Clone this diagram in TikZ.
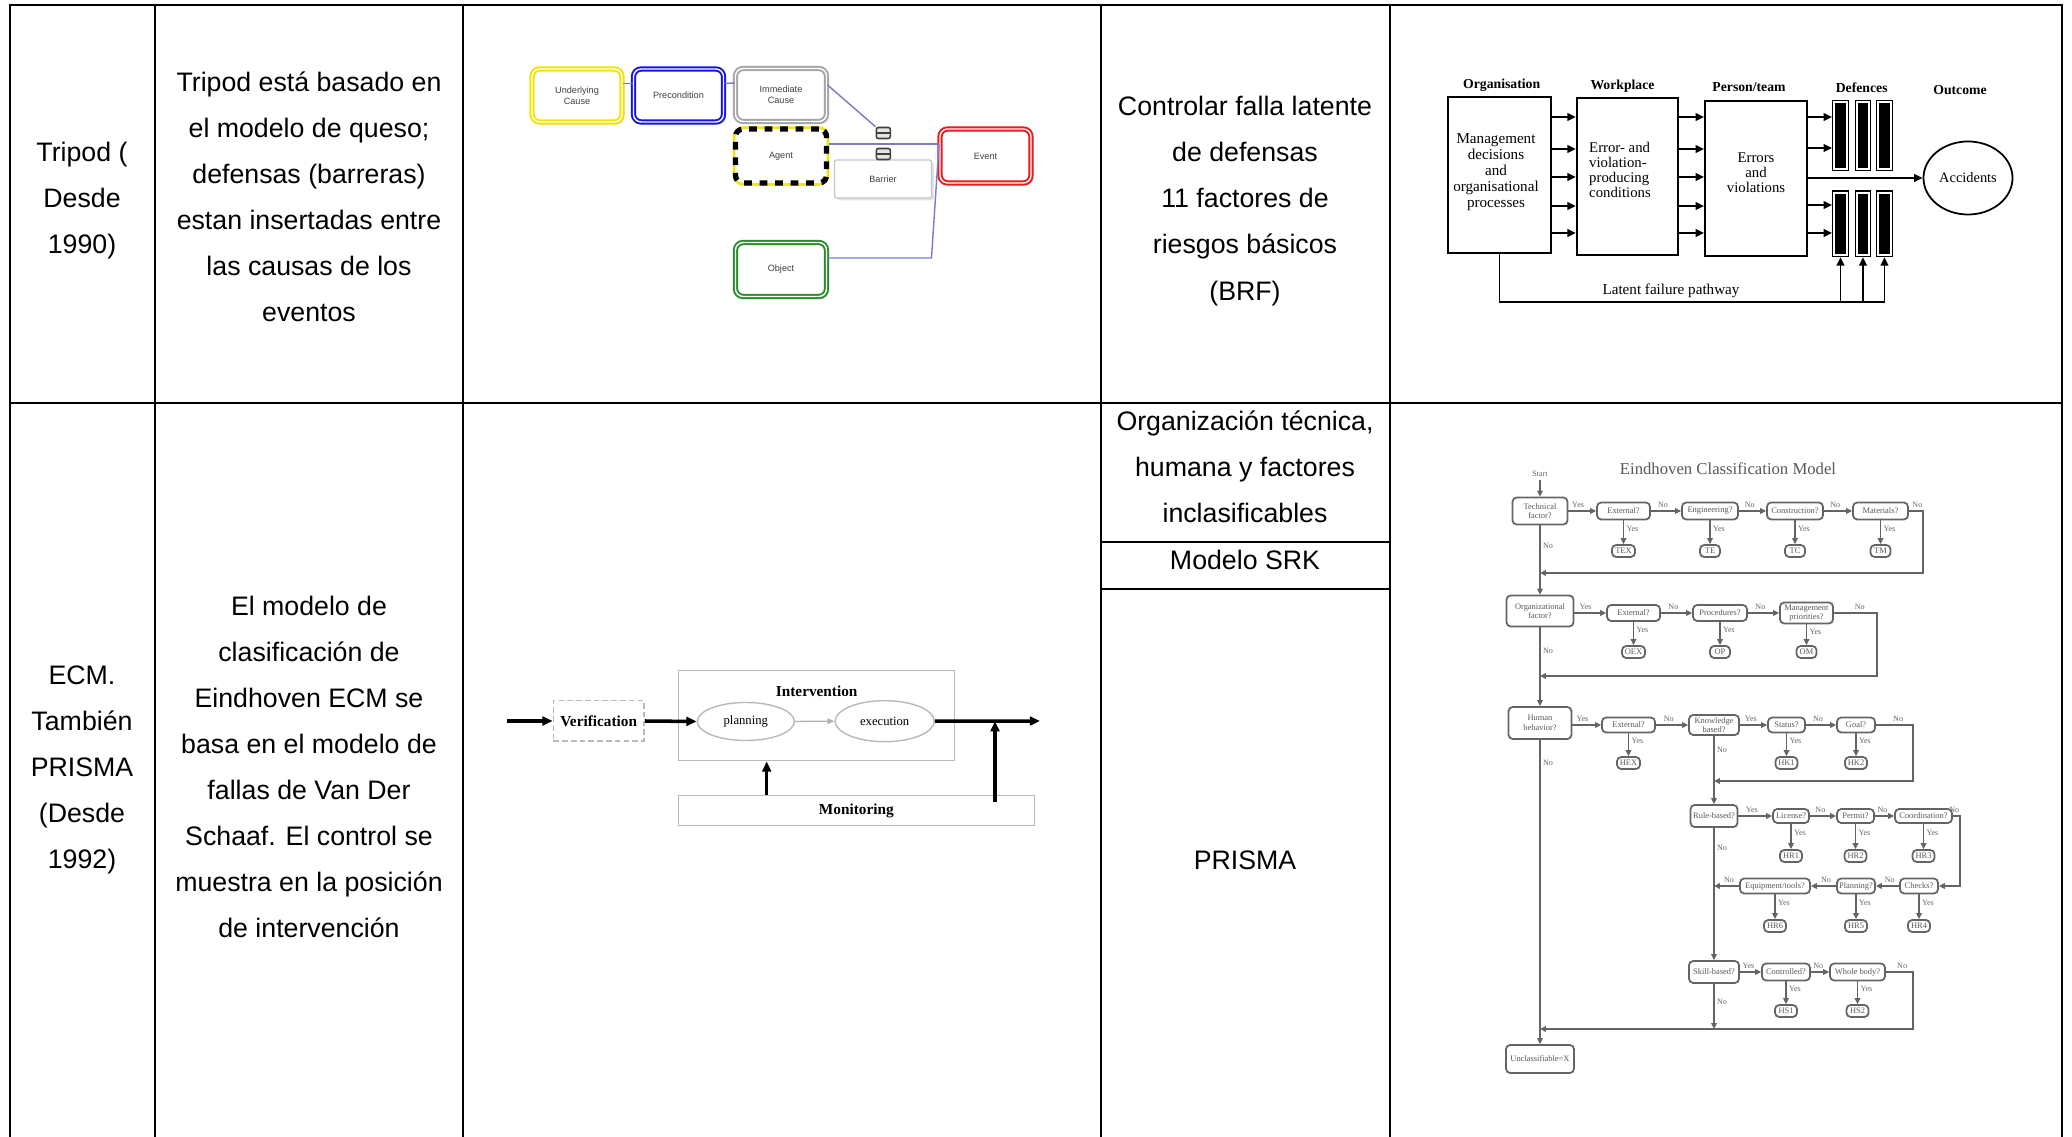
\documentclass[tikz,border=0pt]{standalone}
\usepackage{fontspec}
\setmainfont{Liberation Sans}
\newfontfamily\pserif{Liberation Serif}
\usetikzlibrary{arrows.meta,shapes.geometric,shadows}

\definecolor{linkblue}{RGB}{122,122,200}
\definecolor{ucyellow}{RGB}{240,228,0}
\definecolor{preblue}{RGB}{20,20,230}
\definecolor{icgray}{RGB}{165,165,165}
\definecolor{evred}{RGB}{235,25,25}
\definecolor{objgreen}{RGB}{40,140,40}
\definecolor{flowgray}{RGB}{100,100,100}

\newcommand\celltext{\fontsize{7.6}{13.1}\selectfont}

\tikzset{
  tabrule/.style={line width=0.8pt,black},
  celltxt/.style={align=center,inner sep=0pt,font=\celltext},
  % cause boxes of the Tripod chain
  tp/.style={rounded corners=2.2pt,minimum width=0.90cm,minimum height=0.53cm,inner sep=0pt,
    align=center,font=\fontsize{2.6}{3.1}\selectfont,text=black!75,fill=white,
    drop shadow={opacity=0.22,shadow xshift=0.7pt,shadow yshift=-0.7pt}},
  tpframe/.style={tp,draw=#1,line width=0.55pt,double=white,double distance=0.4pt},
  hazard/.style={draw=black,line width=1.5pt,dash pattern=on 2.2pt off 2.2pt,
    preaction={draw=ucyellow,solid,line width=1.5pt}},
  tlink/.style={draw=linkblue,line width=0.4pt},
  gateicon/.style={draw=black!75,fill=gray!20,line width=0.45pt,rounded corners=0.6pt,
    minimum width=0.14cm,minimum height=0.11cm,inner sep=0pt,
    path picture={\draw[black!75,line width=0.35pt] (path picture bounding box.west) -- (path picture bounding box.east);}},
  % organisational accident model
  rbox/.style={draw=black,line width=0.5pt,inner sep=0pt},
  rtxt/.style={align=center,inner sep=0pt,font=\pserif\fontsize{4.3}{4.55}\selectfont},
  rhead/.style={inner sep=0pt,font=\pserif\bfseries\fontsize{3.9}{4.5}\selectfont},
  rarr/.style={line width=0.5pt,-{Triangle[length=2.4pt,width=2.2pt]}},
  defbar/.style={draw=black,line width=0.35pt,fill=white,minimum width=0.157cm,inner sep=0pt,
    path picture={\fill[black] ([shift={(0.8pt,-0.8pt)}]path picture bounding box.north west)
      rectangle ([shift={(-0.8pt,0.8pt)}]path picture bounding box.south east);}},
  % verification / intervention / monitoring loop
  ebox/.style={draw=gray!55,line width=0.4pt,inner sep=0pt},
  etext/.style={font=\pserif\bfseries\fontsize{4.35}{5}\selectfont},
  eell/.style={ellipse,draw=gray!55,line width=0.4pt,inner sep=0pt,font=\pserif\fontsize{3.6}{4}\selectfont},
  ethick/.style={line width=1pt,-{Triangle[length=2.9pt,width=2.5pt]}},
  % classification flowchart
  dims/.style 2 args={minimum width=#1cm,minimum height=#2cm},
  fq/.style={draw=flowgray,line width=0.5pt,rounded corners=1.2pt,inner sep=0pt,fill=white,
    align=center,text=black!65,font=\pserif\fontsize{2.4}{2.7}\selectfont},
  fl/.style={draw=flowgray,line width=0.55pt},
  fa/.style={fl,-{Triangle[length=1.7pt,width=1.6pt]}},
  fyn/.style={font=\pserif\fontsize{2.3}{2.6}\selectfont,text=black!60,inner sep=0.6pt}
}

\begin{document}
\begin{tikzpicture}[x=0.01cm,y=-0.01cm]
\useasboundingbox (0,0) rectangle (2072,1137);
\fill[white] (0,0) rectangle (2072,1137);

% ---------- table rules ----------
\draw[tabrule,line join=miter] (10,1137) -- (10,5) -- (2062,5) -- (2062,1137);
\foreach \xx in {155,463,1101,1390} \draw[tabrule] (\xx,5) -- (\xx,1137);
\draw[tabrule] (10,403) -- (2062,403);
\draw[tabrule] (1101,542) -- (1390,542);
\draw[tabrule] (1101,589) -- (1390,589);

% ---------- cell texts ----------
\node[celltxt] (r1name) at (82,201) {Tripod (\\Desde\\1990)};
\node[celltxt] (r1desc) at (309,197) {Tripod está basado en\\el modelo de queso;\\defensas (barreras)\\estan insertadas entre\\las causas de los\\eventos};
\node[celltxt] (r1ctrl) at (1245,201) {Controlar falla latente\\de defensas\\11 factores de\\riesgos básicos\\(BRF)};
\node[celltxt] (r2name) at (82,770) {ECM.\\También\\PRISMA\\(Desde\\1992)};
\node[celltxt] (r2desc) at (309,767) {El modelo de\\clasificación de\\Eindhoven ECM se\\basa en el modelo de\\fallas de Van Der\\Schaaf. El control se\\muestra en la posición\\de intervención};
\node[celltxt] (r2fact) at (1245,467) {Organización técnica,\\humana y factores\\inclasificables};
\node[celltxt] (r2srk) at (1245,560) {Modelo SRK};
\node[celltxt] (r2prisma) at (1245,860) {PRISMA};

% ---------- Tripod cause chain ----------
\node[tpframe=ucyellow] (uc) at (577,95.5) {Underlying\\Cause};
\node[tpframe=preblue] (pre) at (678.5,95.5) {Precondition};
\node[tpframe=icgray,minimum width=0.91cm] (ic) at (781,95) {Immediate\\Cause};
\node[tp,hazard,minimum width=0.91cm,minimum height=0.54cm] (ag) at (781,156) {Agent};
\node[tpframe=evred,minimum width=0.91cm,minimum height=0.54cm] (ev) at (985.5,156) {Event};
\node[tpframe=objgreen,minimum width=0.91cm,minimum height=0.54cm] (ob) at (781,269.5) {Object};
\node[tp,draw=gray!45,line width=0.4pt,rounded corners=0.5pt,minimum width=0.97cm,minimum height=0.38cm] (barrier) at (883,179) {Barrier};
\node[gateicon] (g1) at (883.3,133) {};
\node[gateicon] (g2) at (883.3,154) {};
\coordinate (obturn) at (931.5,258);
\draw[tlink] ([yshift=0.12cm]uc.east) -- ([yshift=0.12cm]pre.west);
\draw[tlink] ([yshift=0.12cm]pre.east) -- ([yshift=0.12cm]ic.west);
\draw[tlink] ([yshift=0.10cm]ic.east) -- (g1.north west);
\draw[tlink] ([yshift=0.12cm]ag.east) -- ([yshift=0.12cm]ev.west);
\draw[tlink] ([yshift=0.115cm]ob.east) -- (obturn) -- ([yshift=0.12cm]ev.west);

% ---------- organisational accident model ----------
\node[rhead] (h1) at (1501.7,85) {Organisation};
\node[rhead] (h2) at (1622.5,86) {Workplace};
\node[rhead] (h3) at (1749,87) {Person/team};
\node[rhead] (h4) at (1861.7,88) {Defences};
\node[rhead] (h5) at (1960,90) {Outcome};

\node[rbox,minimum width=1.03cm,minimum height=1.56cm] (org) at (1499.5,175) {};
\node[rbox,minimum width=1.016cm,minimum height=1.57cm] (wp) at (1627.5,176.5) {};
\node[rbox,minimum width=1.02cm,minimum height=1.55cm] (pt) at (1756,178.5) {};
\node[rtxt] (orgtxt) at (1496,172) {Management\\decisions\\and\\organisational\\processes};
\node[rtxt,align=left,font=\pserif\fontsize{4.2}{4.35}\selectfont] (wptxt) at (1620,170) {Error- and\\violation-\\producing\\conditions};
\node[rtxt,font=\pserif\fontsize{4.2}{4.27}\selectfont] (pttxt) at (1756,173) {Errors\\and\\violations};

\foreach \yy in {117,149,177,206,233} {
  \draw[rarr] (org.east |- 0,\yy) -- (wp.west |- 0,\yy);
  \draw[rarr] (wp.east |- 0,\yy) -- (pt.west |- 0,\yy);
}
\node[defbar,minimum height=0.70cm] (d1) at (1840.5,135.7) {};
\node[defbar,minimum height=0.70cm] (d2) at (1863,135.7) {};
\node[defbar,minimum height=0.70cm] (d3) at (1884.5,135.7) {};
\node[defbar,minimum height=0.657cm] (e1) at (1840.5,223.8) {};
\node[defbar,minimum height=0.657cm] (e2) at (1863,223.8) {};
\node[defbar,minimum height=0.657cm] (e3) at (1884.5,223.8) {};
\foreach \yy in {117,148} \draw[rarr] (pt.east |- 0,\yy) -- (d1.west |- 0,\yy);
\foreach \yy in {205,233} \draw[rarr] (pt.east |- 0,\yy) -- (e1.west |- 0,\yy);

\node[draw,ellipse,line width=0.5pt,minimum width=0.89cm,minimum height=0.73cm,inner sep=0pt,
  font=\pserif\fontsize{4.1}{4.5}\selectfont] (acc) at (1968,178) {Accidents};
\draw[rarr] (pt.east |- acc.west) -- (acc.west);

\coordinate (latL) at (1499.5,302);
\draw[line width=0.5pt] (org.south) -- (latL) -- (e3.south |- latL);
\foreach \b in {e1,e2,e3} \draw[rarr] (\b.south |- latL) -- (\b.south);
\node[inner sep=0pt,font=\pserif\fontsize{4.3}{4.5}\selectfont] (latlbl) at (1671,291) {Latent failure pathway};

% ---------- verification / intervention / monitoring ----------
\node[ebox,dash pattern=on 1.6pt off 0.9pt,minimum width=0.907cm,minimum height=0.403cm,etext] (ver) at (598.7,720.8) {Verification};
\node[ebox,minimum width=2.76cm,minimum height=0.90cm] (intv) at (816.3,715.7) {};
\node[etext,inner sep=0pt] (intvlbl) at (816.7,691.7) {Intervention};
\node[eell,minimum width=0.97cm,minimum height=0.38cm] (plan) at (745.8,721.5) {planning};
\node[eell,minimum width=0.99cm,minimum height=0.41cm] (exe) at (884.7,721.2) {execution};
\node[ebox,minimum width=3.56cm,minimum height=0.30cm,etext] (mon) at (856.3,810.7) {Monitoring};
\coordinate (ecmin) at (507,721);
\coordinate (ecmout) at (1040,721);
\coordinate (monout) at (995,801.7);
\draw[ethick] (ecmin) -- (ver.west |- ecmin);
\draw[ethick] (ver.east |- ecmin) -- (plan.west);
\draw[line width=0.4pt,gray!60,-{Triangle[length=2pt,width=1.6pt]}] (plan.east) -- (exe.west);
\draw[ethick] (exe.east) -- (ecmout);
\draw[ethick] (mon.north -| 766.7,0) -- (intv.south -| 766.7,0);
\draw[ethick] (monout) -- (exe.east -| monout);

% ---------- Eindhoven classification flowchart ----------
\node[font=\pserif\fontsize{4.75}{5}\selectfont,text=black!65,inner sep=0pt] (ecmtitle) at (1728,469) {Eindhoven Classification Model};
\node[fyn] (start) at (1540,474) {Start};

% technical factors
\node[fq,dims={0.55}{0.27}] (tf) at (1540,511) {Technical\\factor?};
\node[fq,dims={0.53}{0.17}] (t1) at (1623.5,511) {External?};
\node[fq,dims={0.56}{0.17}] (t2) at (1710,511) {Engineering?};
\node[fq,dims={0.56}{0.17}] (t3) at (1795,511) {Construction?};
\node[fq,dims={0.55}{0.17}] (t4) at (1880.5,511) {Materials?};
\node[fq,dims={0.23}{0.12}] (tc1) at (1623.5,551) {TEX};
\node[fq,dims={0.20}{0.12}] (tc2) at (1710,551) {TE};
\node[fq,dims={0.20}{0.12}] (tc3) at (1795,551) {TC};
\node[fq,dims={0.20}{0.12}] (tc4) at (1880.5,551) {TM};

% organisational factors
\node[fq,dims={0.67}{0.31}] (og) at (1540,611) {Organizational\\factor?};
\node[fq,dims={0.53}{0.16}] (o1) at (1633.5,613) {External?};
\node[fq,dims={0.54}{0.16}] (o2) at (1720,613) {Procedures?};
\node[fq,dims={0.53}{0.21}] (o3) at (1806.5,613) {Management\\priorities?};
\node[fq,dims={0.23}{0.12}] (oc1) at (1633.5,652) {OEX};
\node[fq,dims={0.20}{0.12}] (oc2) at (1720,652) {OP};
\node[fq,dims={0.20}{0.12}] (oc3) at (1806.5,652) {OM};

% human behaviour
\node[fq,dims={0.63}{0.32}] (hb) at (1540,723) {Human\\behavior?};
\node[fq,dims={0.53}{0.15}] (h1) at (1628.5,725) {External?};
\node[fq,dims={0.50}{0.20}] (hk) at (1714,725) {Knowledge\\based?};
\node[fq,dims={0.37}{0.15}] (h2) at (1786.5,725) {Status?};
\node[fq,dims={0.38}{0.15}] (h3) at (1856,725) {Goal?};
\node[fq,dims={0.23}{0.12}] (hc1) at (1628.5,763) {HEX};
\node[fq,dims={0.22}{0.12}] (hc2) at (1786.5,763) {HK1};
\node[fq,dims={0.22}{0.12}] (hc3) at (1856,763) {HK2};

% rule based
\node[fq,dims={0.47}{0.22}] (rb) at (1714,816) {Rule-based?};
\node[fq,dims={0.36}{0.14}] (r1) at (1791,816) {License?};
\node[fq,dims={0.37}{0.14}] (r2) at (1855.5,816) {Permit?};
\node[fq,dims={0.57}{0.14}] (r3) at (1923.5,816) {Coordination?};
\node[fq,dims={0.22}{0.12}] (rc1) at (1791,856) {HR1};
\node[fq,dims={0.22}{0.12}] (rc2) at (1855.5,856) {HR2};
\node[fq,dims={0.22}{0.12}] (rc3) at (1923.5,856) {HR3};
\node[fq,dims={0.38}{0.15}] (r4) at (1919,886) {Checks?};
\node[fq,dims={0.38}{0.15}] (r5) at (1856,886) {Planning?};
\node[fq,dims={0.70}{0.15}] (r6) at (1775,886) {Equipment/tools?};
\node[fq,dims={0.22}{0.12}] (rc4) at (1919,926) {HR4};
\node[fq,dims={0.22}{0.12}] (rc5) at (1856,926) {HR5};
\node[fq,dims={0.22}{0.12}] (rc6) at (1775,926) {HR6};

% skill based
\node[fq,dims={0.50}{0.22}] (sb) at (1714,972) {Skill-based?};
\node[fq,dims={0.48}{0.17}] (s1) at (1786,972) {Controlled?};
\node[fq,dims={0.55}{0.17}] (s2) at (1857.5,972) {Whole body?};
\node[fq,dims={0.22}{0.12}] (sc1) at (1786,1011) {HS1};
\node[fq,dims={0.22}{0.12}] (sc2) at (1857.5,1011) {HS2};

\node[fq,dims={0.68}{0.28}] (unc) at (1540,1059) {Unclassifiable=X};

% junctions and loop corners
\coordinate (tcorner) at (1923,573);
\coordinate (tjoin) at (1540,573);
\coordinate (ocorner) at (1877,676);
\coordinate (ojoin) at (1540,676);
\coordinate (hcorner) at (1913,781);
\coordinate (hjoin) at (1714,781);
\coordinate (rcorner) at (1960,886);
\coordinate (rjoin) at (1714,886);
\coordinate (scorner) at (1913,1029);
\coordinate (mjoin) at (1540,1029);
\coordinate (sjoin) at (1714,1029);

% main spine
\draw[fa] (start) -- (tf);
\draw[fa] (tf) -- node[fyn,right,pos=0.3]{No} (og);
\draw[fa] (og) -- node[fyn,right,pos=0.3]{No} (hb);
\draw[fl] (hb) -- node[fyn,right,pos=0.08]{No} (mjoin);
\draw[fa] (mjoin) -- (unc);

% technical row
\draw[fa] (tf.east) -- node[fyn,above,pos=0.35]{Yes} (t1.west);
\draw[fa] (t1) -- node[fyn,above,pos=0.4]{No} (t2);
\draw[fa] (t2) -- node[fyn,above,pos=0.4]{No} (t3);
\draw[fa] (t3) -- node[fyn,above,pos=0.4]{No} (t4);
\draw[fa] (t4.east) -| node[fyn,above,pos=0.3]{No} (tcorner) -- (tjoin);
\foreach \a/\b in {t1/tc1,t2/tc2,t3/tc3,t4/tc4}
  \draw[fa] (\a) -- node[fyn,right,pos=0.35]{Yes} (\b);

% organisational row
\draw[fa] (og.east |- o1.west) -- node[fyn,above,pos=0.35]{Yes} (o1.west);
\draw[fa] (o1) -- node[fyn,above,pos=0.4]{No} (o2);
\draw[fa] (o2) -- node[fyn,above,pos=0.4]{No} (o3);
\draw[fa] (o3.east) -| node[fyn,above,pos=0.3]{No} (ocorner) -- (ojoin);
\foreach \a/\b in {o1/oc1,o2/oc2,o3/oc3}
  \draw[fa] (\a) -- node[fyn,right,pos=0.35]{Yes} (\b);

% human behaviour row
\draw[fa] (hb.east |- h1.west) -- node[fyn,above,pos=0.35]{Yes} (h1.west);
\draw[fa] (h1) -- node[fyn,above,pos=0.4]{No} (hk);
\draw[fa] (hk) -- node[fyn,above,pos=0.4]{Yes} (h2);
\draw[fa] (h2) -- node[fyn,above,pos=0.4]{No} (h3);
\draw[fa] (h3.east) -| node[fyn,above,pos=0.3]{No} (hcorner) -- (hjoin);
\foreach \a/\b in {h1/hc1,h2/hc2,h3/hc3}
  \draw[fa] (\a) -- node[fyn,right,pos=0.35]{Yes} (\b);
\draw[fa] (hk) -- node[fyn,right,pos=0.2]{No} (rb);

% rule based rows
\draw[fa] (rb) -- node[fyn,above,pos=0.4]{Yes} (r1);
\draw[fa] (r1) -- node[fyn,above,pos=0.4]{No} (r2);
\draw[fa] (r2) -- node[fyn,above,pos=0.4]{No} (r3);
\draw[fa] (r3.east) -| node[fyn,above,pos=0.1]{No} (rcorner) -- (r4.east);
\draw[fa] (r4) -- node[fyn,above,pos=0.4]{No} (r5);
\draw[fa] (r5) -- node[fyn,above,pos=0.4]{No} (r6);
\draw[fa] (r6.west) -- node[fyn,above,pos=0.4]{No} (rjoin);
\foreach \a/\b in {r1/rc1,r2/rc2,r3/rc3,r4/rc4,r5/rc5,r6/rc6}
  \draw[fa] (\a) -- node[fyn,right,pos=0.35]{Yes} (\b);
\draw[fa] (rb) -- node[fyn,right,pos=0.15]{No} (sb);

% skill based row
\draw[fa] (sb) -- node[fyn,above,pos=0.4]{Yes} (s1);
\draw[fa] (s1) -- node[fyn,above,pos=0.4]{No} (s2);
\draw[fa] (s2.east) -| node[fyn,above,pos=0.3]{No} (scorner) -- (mjoin);
\foreach \a/\b in {s1/sc1,s2/sc2}
  \draw[fa] (\a) -- node[fyn,right,pos=0.35]{Yes} (\b);
\draw[fa] (sb) -- node[fyn,right,pos=0.4]{No} (sjoin);
\end{tikzpicture}
\end{document}
